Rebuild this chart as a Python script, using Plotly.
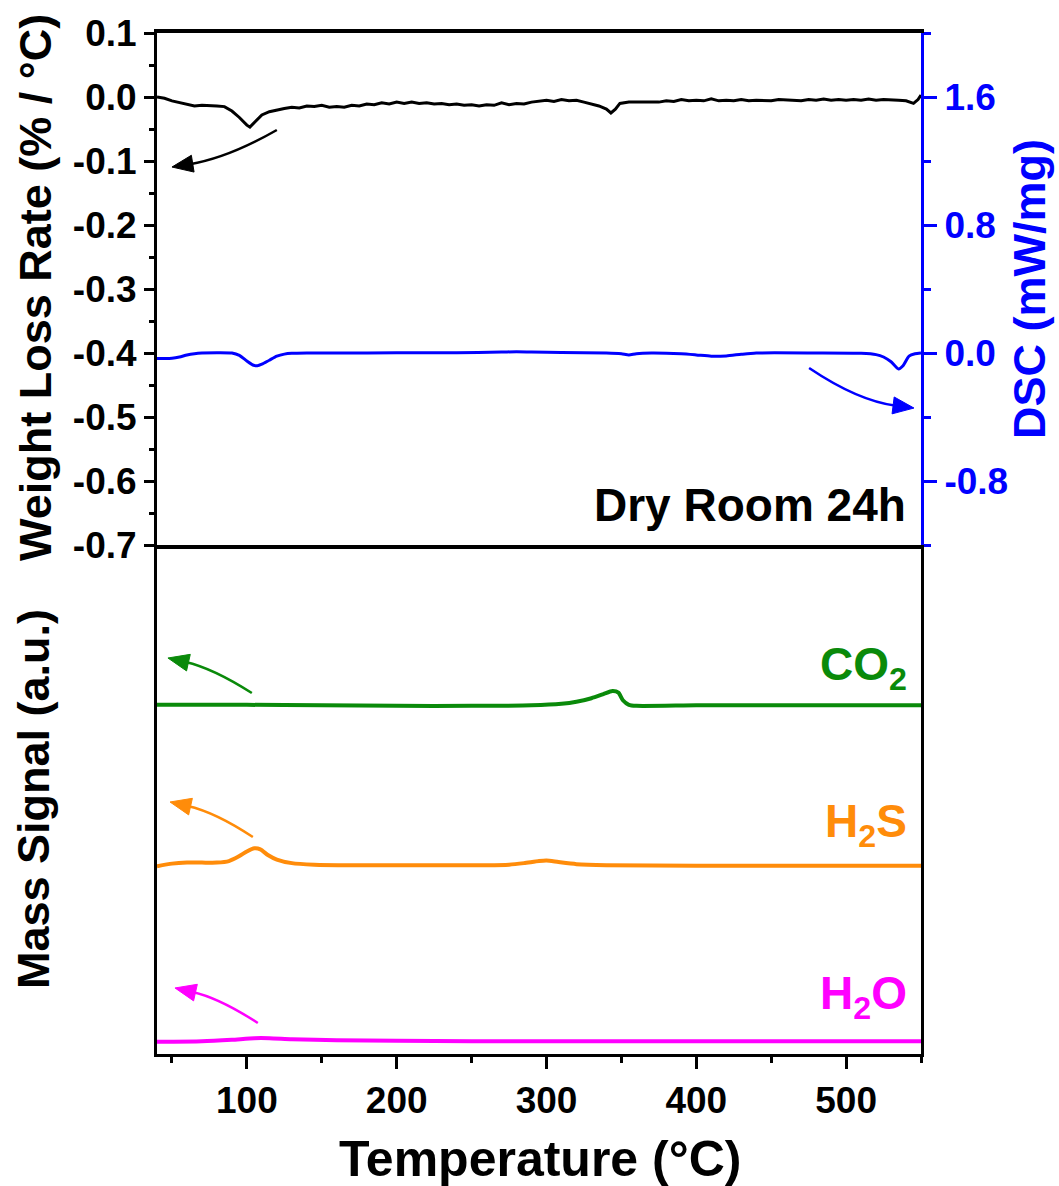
import math
import plotly.graph_objects as go

# ---------------- data ----------------
# TGA: weight loss rate (% / °C) vs temperature
tga_temp = [40, 45, 50, 55, 60, 65, 70, 75, 80, 85, 90, 95, 100, 102, 105, 110, 115, 120,
            125, 130, 135, 140, 145, 150, 155, 160, 165, 170, 175, 180, 185, 190, 195, 200,
            205, 210, 215, 220, 225, 230, 235, 240, 245, 250, 255, 260, 265, 270, 275, 280,
            285, 290, 295, 300, 305, 310, 315, 320, 325, 330, 335, 340, 343, 346, 349, 355,
            360, 365, 370, 375, 380, 385, 390, 395, 400, 405, 410, 415, 420, 425, 430, 435,
            440, 445, 450, 455, 460, 465, 470, 475, 480, 485, 490, 495, 500, 505, 510, 515,
            520, 525, 530, 535, 540, 545, 548, 550]
tga_rate = [0.000, -0.002, -0.006, -0.009, -0.012, -0.014, -0.013, -0.013, -0.014, -0.015,
            -0.022, -0.032, -0.044, -0.047, -0.040, -0.028, -0.023, -0.020, -0.018, -0.016,
            -0.017, -0.014, -0.015, -0.013, -0.016, -0.015, -0.016, -0.013, -0.014, -0.011,
            -0.012, -0.009, -0.011, -0.008, -0.010, -0.008, -0.010, -0.009, -0.011, -0.010,
            -0.012, -0.011, -0.013, -0.012, -0.014, -0.012, -0.013, -0.009, -0.012, -0.010,
            -0.011, -0.008, -0.006, -0.005, -0.007, -0.004, -0.006, -0.005, -0.008, -0.011,
            -0.014, -0.019, -0.025, -0.019, -0.010, -0.008, -0.008, -0.007, -0.007, -0.008,
            -0.006, -0.007, -0.004, -0.006, -0.005, -0.006, -0.003, -0.006, -0.005, -0.006,
            -0.004, -0.006, -0.005, -0.005, -0.006, -0.004, -0.005, -0.005, -0.006, -0.004,
            -0.005, -0.003, -0.005, -0.004, -0.005, -0.004, -0.005, -0.003, -0.005, -0.004,
            -0.004, -0.005, -0.006, -0.010, -0.004, 0.003]

# DSC heat flow (mW/mg)
dsc_temp = [40, 45, 50, 55, 60, 65, 70, 80, 90, 95, 100, 104, 107, 110, 115, 120, 125, 130,
            140, 160, 200, 240, 270, 280, 290, 310, 340, 350, 355, 360, 370, 390, 400, 410,
            420, 430, 440, 480, 510, 520, 525, 530, 535, 538, 542, 546, 550]
dsc_flow = [-0.035, -0.035, -0.033, -0.025, -0.012, -0.004, 0.000, 0.002, 0.000, -0.015,
            -0.050, -0.075, -0.080, -0.070, -0.045, -0.020, -0.007, -0.002, 0.000, 0.000,
            0.001, 0.002, 0.006, 0.008, 0.006, 0.003, 0.000, -0.005, -0.012, -0.004, 0.000,
            -0.005, -0.012, -0.020, -0.018, -0.008, 0.000, 0.000, -0.002, -0.010, -0.025,
            -0.055, -0.100, -0.080, -0.020, -0.005, 0.000]

# Mass spectrometer signals (a.u., stacked)
co2_temp = [40, 100, 150, 200, 250, 290, 310, 320, 330, 338, 344, 348, 351, 355, 360, 400,
            450, 500, 550]
co2_sig = [68.6, 68.6, 68.5, 68.4, 68.4, 68.5, 68.8, 69.2, 69.9, 70.7, 71.3, 71.0, 69.5,
           68.6, 68.4, 68.5, 68.5, 68.5, 68.5]

h2s_temp = [40, 50, 60, 70, 80, 88, 95, 100, 105, 109, 114, 120, 130, 145, 170, 220, 260,
            275, 285, 295, 300, 308, 320, 340, 400, 450, 500, 550]
h2s_sig = [36.9, 37.4, 37.6, 37.6, 37.6, 37.9, 38.9, 39.8, 40.4, 40.2, 39.1, 38.2, 37.5,
           37.2, 37.1, 37.1, 37.1, 37.2, 37.5, 37.9, 38.0, 37.7, 37.3, 37.1, 37.0, 37.0,
           37.0, 37.0]

h2o_temp = [40, 70, 90, 105, 115, 130, 160, 200, 250, 300, 400, 500, 550]
h2o_sig = [2.4, 2.5, 2.8, 3.1, 3.1, 2.9, 2.7, 2.6, 2.5, 2.5, 2.5, 2.5, 2.5]

# axis ticks
x_ticks = [100, 200, 300, 400, 500]
tga_ticks = [-0.7, -0.6, -0.5, -0.4, -0.3, -0.2, -0.1, 0.0, 0.1]
tga_tick_text = ["-0.7", "-0.6", "-0.5", "-0.4", "-0.3", "-0.2", "-0.1", "0.0", "0.1"]
tga_minor = [-0.65, -0.55, -0.45, -0.35, -0.25, -0.15, -0.05, 0.05]
dsc_ticks = [-0.8, 0.0, 0.8, 1.6]
dsc_tick_text = ["-0.8", "0.0", "0.8", "1.6"]
dsc_minor = [-1.2, -0.4, 0.4, 1.2, 2.0]

# ---------------- styling ----------------
FONT = "Liberation Sans, Arial, sans-serif"
BLACK = "#000000"
BLUE = "#0000FF"
GREEN = "#0A8A0A"
ORANGE = "#FF8C0A"
MAGENTA = "#FF00FF"

W, H = 1059, 1186
ML, MR, MT, MB = 157, 138, 33, 132
SPLIT = 509 / 1021  # boundary between the two panels (paper fraction)
X_RANGE = [40, 550]
Y_RANGES = {"y": [-0.7, 0.1], "y2": [-1.2, 2.0], "y3": [0, 100]}

pw, ph = W - ML - MR, H - MT - MB
X_SCALE = pw / (X_RANGE[1] - X_RANGE[0])
Y_SCALE = {
    "y": ph * (1 - SPLIT) / (Y_RANGES["y"][1] - Y_RANGES["y"][0]),
    "y2": ph * (1 - SPLIT) / (Y_RANGES["y2"][1] - Y_RANGES["y2"][0]),
    "y3": ph * SPLIT / (Y_RANGES["y3"][1] - Y_RANGES["y3"][0]),
}

fig = go.Figure()

fig.add_trace(go.Scatter(x=tga_temp, y=tga_rate, xaxis="x2", yaxis="y", mode="lines",
                         line=dict(color=BLACK, width=3), showlegend=False))
fig.add_trace(go.Scatter(x=dsc_temp, y=dsc_flow, xaxis="x2", yaxis="y2", mode="lines",
                         line=dict(color=BLUE, width=3, shape="spline", smoothing=0.6),
                         showlegend=False))
for xs, ys, col in [(co2_temp, co2_sig, GREEN), (h2s_temp, h2s_sig, ORANGE),
                    (h2o_temp, h2o_sig, MAGENTA)]:
    fig.add_trace(go.Scatter(x=xs, y=ys, xaxis="x", yaxis="y3", mode="lines",
                             line=dict(color=col, width=4, shape="spline", smoothing=0.6),
                             showlegend=False))

# curved arrows: (xref, yref, start, control, tip, colour)
arrows = [
    ("x2", "y", (120, -0.0516), (87.3, -0.0953), (50, -0.1094), BLACK),
    ("x2", "y2", (475.3, -0.094), (508.0, -0.30), (545.3, -0.344), BLUE),
    ("x", "y3", (103.3, 70.92), (77.3, 75.8), (47.3, 77.80), GREEN),
    ("x", "y3", (104.0, 42.63), (79.0, 47.5), (48.7, 49.51), ORANGE),
    ("x", "y3", (107.3, 6.09), (81.7, 11.0), (52.0, 12.97), MAGENTA),
]
HEAD_LEN, HEAD_HALF = 21, 8.5


def to_px(xv, yv, yr):
    return xv * X_SCALE, -yv * Y_SCALE[yr]


def from_px(px, py, yr):
    return px / X_SCALE, -py / Y_SCALE[yr]


shapes = []
for xr, yr, s, c, t, col in arrows:
    # arrowhead direction follows the tangent of the curve at its tip
    cx, cy = to_px(*c, yr)
    tx, ty = to_px(*t, yr)
    dx, dy = tx - cx, ty - cy
    n = math.hypot(dx, dy)
    ux, uy = dx / n, dy / n
    bx, by = tx - HEAD_LEN * ux, ty - HEAD_LEN * uy
    p1 = from_px(bx - HEAD_HALF * uy, by + HEAD_HALF * ux, yr)
    p2 = from_px(bx + HEAD_HALF * uy, by - HEAD_HALF * ux, yr)
    base = from_px(bx + 3 * ux, by + 3 * uy, yr)
    shapes.append(dict(type="path", xref=xr, yref=yr, layer="above",
                       path=f"M {s[0]},{s[1]} Q {c[0]},{c[1]} {base[0]},{base[1]}",
                       line=dict(color=col, width=2.5)))
    shapes.append(dict(type="path", xref=xr, yref=yr, layer="above",
                       path=f"M {t[0]},{t[1]} L {p1[0]},{p1[1]} L {p2[0]},{p2[1]} Z",
                       fillcolor=col, line=dict(color=col, width=1)))

annotations = []
# gas labels
for label, yv, col in [("CO<sub>2</sub>", 76.0, GREEN), ("H<sub>2</sub>S", 45.0, ORANGE),
                       ("H<sub>2</sub>O", 11.2, MAGENTA)]:
    annotations.append(dict(xref="x", yref="y3", x=542, y=yv, text=label, showarrow=False,
                            xanchor="right", yanchor="middle",
                            font=dict(family=FONT, size=46, color=col, weight="bold")))

annotations.append(dict(xref="x2", yref="y", x=541, y=-0.6375, text="Dry Room 24h",
                        showarrow=False, xanchor="right", yanchor="middle",
                        font=dict(family=FONT, size=46, color=BLACK, weight="bold")))


# axis titles
def px_to_paper(px, py):
    return (px - ML) / pw, (H - MB - py) / ph


for text, (px, py), col in [("Weight Loss Rate (% / °C)", (35, 288), BLACK),
                            ("Mass Signal (a.u.)", (33, 799), BLACK),
                            ("DSC (mW/mg)", (1030, 289), BLUE)]:
    xp, yp = px_to_paper(px, py)
    annotations.append(dict(xref="paper", yref="paper", x=xp, y=yp, text=text,
                            textangle=-90, showarrow=False, xanchor="center",
                            yanchor="middle",
                            font=dict(family=FONT, size=45, color=col, weight="bold")))
xp, yp = px_to_paper(540, 1159)
annotations.append(dict(xref="paper", yref="paper", x=xp, y=yp, text="Temperature (°C)",
                        showarrow=False, xanchor="center", yanchor="middle",
                        font=dict(family=FONT, size=50, color=BLACK, weight="bold")))

tickfont = dict(family=FONT, size=37, color=BLACK, weight="bold")

fig.update_layout(
    width=W, height=H,
    margin=dict(l=ML, r=MR, t=MT, b=MB, pad=0),
    paper_bgcolor="white", plot_bgcolor="white",
    font=dict(family=FONT, color=BLACK),
    shapes=shapes, annotations=annotations,
    xaxis=dict(domain=[0, 1], anchor="y3", range=X_RANGE, tickvals=x_ticks,
               ticks="outside", ticklen=12, tickwidth=3, tickcolor=BLACK,
               minor=dict(dtick=50, tick0=0, ticks="outside", ticklen=6, tickwidth=3,
                          tickcolor=BLACK),
               showline=True, linewidth=3, linecolor=BLACK, mirror=False,
               showgrid=False, zeroline=False, tickfont=tickfont),
    xaxis2=dict(domain=[0, 1], anchor="y", matches="x", range=X_RANGE,
                showticklabels=False, ticks="", showline=True, linewidth=3.5,
                linecolor=BLACK, mirror=True, showgrid=False, zeroline=False),
    yaxis=dict(domain=[SPLIT, 1], anchor="x2", range=Y_RANGES["y"], tickvals=tga_ticks,
               ticktext=tga_tick_text, ticks="outside", ticklen=10, tickwidth=3,
               tickcolor=BLACK,
               minor=dict(tickvals=tga_minor, ticks="outside", ticklen=5, tickwidth=3,
                          tickcolor=BLACK),
               showline=True, linewidth=3, linecolor=BLACK, mirror=False,
               showgrid=False, zeroline=False, tickfont=tickfont),
    yaxis2=dict(overlaying="y", side="right", anchor="x2", range=Y_RANGES["y2"],
                tickvals=dsc_ticks, ticktext=dsc_tick_text, ticks="outside", ticklen=13,
                tickwidth=3, tickcolor=BLUE,
                minor=dict(tickvals=dsc_minor, ticks="outside", ticklen=7, tickwidth=3,
                           tickcolor=BLUE),
                showline=True, linewidth=3, linecolor=BLUE, showgrid=False,
                zeroline=False, tickfont=dict(family=FONT, size=37, color=BLUE,
                                              weight="bold")),
    yaxis3=dict(domain=[0, SPLIT], anchor="x", range=Y_RANGES["y3"], showticklabels=False,
                ticks="", showline=True, linewidth=3, linecolor=BLACK, mirror=True,
                showgrid=False, zeroline=False),
)

fig.write_html("out.html")
